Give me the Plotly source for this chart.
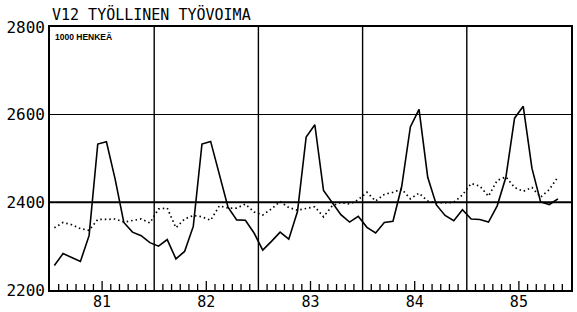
import plotly.graph_objects as go

years = ["81", "82", "83", "84", "85"]
solid_values = [
    2256, 2283, 2274, 2265, 2324, 2533, 2538, 2453, 2354, 2332, 2324, 2308,
    2300, 2315, 2271, 2288, 2345, 2533, 2539, 2462, 2389, 2360, 2359, 2330,
    2291, 2311, 2332, 2316, 2379, 2549, 2577, 2427, 2399, 2372, 2355, 2368,
    2343, 2330, 2354, 2357, 2436, 2572, 2612, 2457, 2394, 2370, 2358, 2383,
    2362, 2361, 2355, 2392, 2457, 2592, 2619, 2478, 2401, 2395, 2408,
]
dotted_values = [
    2342, 2354, 2349, 2340, 2336, 2361, 2361, 2362, 2355, 2358, 2362, 2353,
    2385, 2387, 2342, 2362, 2370, 2367, 2359, 2392, 2387, 2387, 2396, 2378,
    2371, 2385, 2402, 2388, 2382, 2386, 2390, 2367, 2392, 2400, 2396, 2406,
    2423, 2403, 2418, 2423, 2430, 2408, 2421, 2403, 2399, 2399, 2400, 2417,
    2443, 2437, 2414, 2450, 2458, 2434, 2425, 2434, 2412, 2429, 2458,
]
y_ticks = [2200, 2400, 2600, 2800]

months = [i + 0.5 for i in range(len(solid_values))]
n_months = 12 * len(years)

year_mids = [12 * k + 6 for k in range(len(years))]
month_edges = list(range(n_months + 1))

fig = go.Figure()
fig.add_trace(go.Scatter(x=months, y=dotted_values, mode="lines",
                         line=dict(color="black", width=1.7, dash="1.5px,3px"),
                         showlegend=False, hoverinfo="skip"))
fig.add_trace(go.Scatter(x=months, y=solid_values, mode="lines",
                         line=dict(color="black", width=1.6),
                         showlegend=False, hoverinfo="skip"))

# year boundary grid lines
for k in range(1, len(years)):
    fig.add_shape(type="line", xref="x", yref="paper", x0=12 * k, x1=12 * k,
                  y0=0, y1=1, line=dict(color="black", width=1.4), layer="below")
# month tick marks (inside, from the bottom axis) - longer at mid-year
for m in month_edges:
    if m % 12 == 0:
        continue
    h = 9 if m % 12 == 6 else 6
    fig.add_shape(type="line", xref="x", yref="y", x0=m, x1=m,
                  y0=2200, y1=2200 + h * 600 / 263,
                  line=dict(color="black", width=1.3))
# thicker 2400 line
fig.add_shape(type="line", xref="paper", yref="y", x0=0, x1=1, y0=2400, y1=2400,
              line=dict(color="black", width=2), layer="below")

mono = "DejaVu Sans Mono"
fig.update_layout(
    width=577, height=312,
    margin=dict(l=50, r=6, t=27, b=22),
    paper_bgcolor="white", plot_bgcolor="white",
    xaxis=dict(range=[0, n_months], tickmode="array", automargin=False,
               tickvals=year_mids, ticktext=years,
               ticks="", ticklabelstandoff=-3,
               showgrid=False, zeroline=False,
               showline=True, linecolor="black", linewidth=1.6, mirror=True,
               tickfont=dict(family=mono, size=15, color="black")),
    yaxis=dict(range=[2200, 2800], tickmode="array", tickvals=y_ticks,
               automargin=False,
               ticks="", showgrid=True, gridcolor="black", gridwidth=1.2,
               zeroline=False,
               showline=True, linecolor="black", linewidth=1.6, mirror=True,
               tickfont=dict(family=mono, size=16, color="black")),
    annotations=[
        dict(text="V12 TYÖLLINEN TYÖVOIMA", xref="paper", yref="paper",
             x=0, y=1, xanchor="left", yanchor="bottom", yshift=1,
             showarrow=False, font=dict(family=mono, size=15, color="black")),
        dict(text="<b>1000 HENKEÄ</b>", xref="paper", yref="paper",
             x=0.006, y=1, xanchor="left", yanchor="top", yshift=-3,
             showarrow=False, font=dict(family="Liberation Sans", size=8.5, color="black")),
    ],
)

fig.write_html("out.html", config={"displayModeBar": False},
               post_script="document.body.style.margin='0';document.body.style.overflow='hidden';")
